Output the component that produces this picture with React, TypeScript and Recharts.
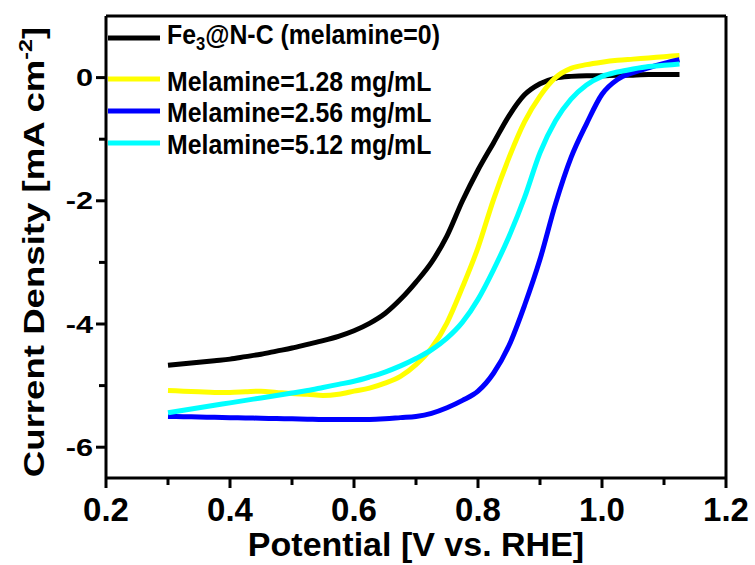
import { LineChart, Line, XAxis, YAxis, Legend, ReferenceLine } from 'recharts'

// potential grid [V vs. RHE] and current densities [mA cm-2]
const potential = [0.300, 0.325, 0.350, 0.375, 0.400, 0.425, 0.450, 0.475, 0.500, 0.525, 0.550, 0.575, 0.600, 0.625, 0.650, 0.675, 0.700, 0.725, 0.750, 0.775, 0.800, 0.825, 0.850, 0.875, 0.900, 0.925, 0.950, 0.975, 1.000, 1.025, 1.050, 1.075, 1.100, 1.125]

const fe3NC = [-4.67, -4.645, -4.62, -4.595, -4.57, -4.53, -4.49, -4.44, -4.39, -4.33, -4.27, -4.20, -4.11, -3.99, -3.83, -3.60, -3.32, -3.00, -2.57, -2.00, -1.50, -1.06, -0.62, -0.28, -0.10, -0.01, 0.02, 0.03, 0.03, 0.04, 0.04, 0.05, 0.05, 0.05]
const mel128 = [-5.08, -5.09, -5.10, -5.11, -5.11, -5.10, -5.09, -5.11, -5.13, -5.14, -5.16, -5.14, -5.09, -5.04, -4.96, -4.85, -4.66, -4.39, -3.98, -3.40, -2.76, -1.98, -1.30, -0.72, -0.30, 0.00, 0.15, 0.21, 0.25, 0.28, 0.30, 0.32, 0.34, 0.36]
const mel256 = [-5.50, -5.505, -5.51, -5.515, -5.52, -5.525, -5.53, -5.535, -5.54, -5.545, -5.55, -5.55, -5.55, -5.55, -5.54, -5.52, -5.50, -5.45, -5.36, -5.24, -5.09, -4.80, -4.35, -3.70, -2.95, -2.05, -1.30, -0.75, -0.27, -0.03, 0.08, 0.16, 0.23, 0.29]
const mel512 = [-5.44, -5.40, -5.36, -5.32, -5.28, -5.24, -5.20, -5.16, -5.12, -5.08, -5.03, -4.98, -4.93, -4.86, -4.78, -4.68, -4.56, -4.42, -4.23, -3.97, -3.60, -3.12, -2.58, -1.95, -1.22, -0.70, -0.35, -0.12, 0.02, 0.09, 0.14, 0.18, 0.20, 0.22]

const xTicks = [0.2, 0.3, 0.4, 0.5, 0.6, 0.7, 0.8, 0.9, 1.0, 1.1, 1.2]
const yTicks = [-6, -5, -4, -3, -2, -1, 0]

const series = [
  { key: 'fe3NC', color: '#000000' },
  { key: 'mel128', color: '#FFFF00' },
  { key: 'mel256', color: '#0000FF' },
  { key: 'mel512', color: '#00FFFF' },
]

const data = potential.map((v, i) => ({
  v,
  fe3NC: fe3NC[i],
  mel128: mel128[i],
  mel256: mel256[i],
  mel512: mel512[i],
}))

const FONT = '"Liberation Sans", Arial, sans-serif'

// major ticks get a label and a longer mark, minor ones only a short mark
const XTick = (props: any) => {
  const { x, y, payload } = props
  const major = Math.round(payload.value * 10) % 2 === 0
  return (
    <g>
      <line x1={x} x2={x} y1={y} y2={y + (major ? 10 : 7)} stroke="#000" strokeWidth={3} />
      {major && (
        <text x={x} y={y + 43} textAnchor="middle" fontSize={33} fontWeight="bold" fontFamily={FONT} fill="#000">
          {payload.value.toFixed(1)}
        </text>
      )}
    </g>
  )
}

const YTick = (props: any) => {
  const { x, y, payload } = props
  const major = payload.value % 2 === 0
  return (
    <g>
      <line x1={x - (major ? 10 : 7)} x2={x} y1={y} y2={y} stroke="#000" strokeWidth={3} />
      {major && (
        <text
          transform={`translate(${x - 13},${y + 8.5}) scale(1.28,1)`}
          textAnchor="end"
          fontSize={24}
          fontWeight="bold"
          fontFamily={FONT}
          fill="#000"
        >
          {payload.value}
        </text>
      )}
    </g>
  )
}

const LegendBox = () => {
  const rows = [
    { lineY: 23, textY: 29 },
    { lineY: 64, textY: 76 },
    { lineY: 96, textY: 107 },
    { lineY: 128, textY: 139 },
  ]
  const label = (i: number) => {
    if (i === 0) {
      return (
        <>
          Fe<tspan fontSize={18} dy={6}>3</tspan>
          <tspan dy={-6}>@N-C (melamine=0)</tspan>
        </>
      )
    }
    return ['', 'Melamine=1.28 mg/mL', 'Melamine=2.56 mg/mL', 'Melamine=5.12 mg/mL'][i]
  }
  return (
    <svg width={360} height={150} style={{ display: 'block' }}>
      {series.map((s, i) => (
        <g key={s.key}>
          <line x1={8} x2={60} y1={rows[i].lineY} y2={rows[i].lineY} stroke={s.color} strokeWidth={5} />
          <text
            transform={`translate(67,${rows[i].textY}) scale(0.92,1)`}
            fontSize={27}
            fontWeight="bold"
            fontFamily={FONT}
            fill="#000"
          >
            {label(i)}
          </text>
        </g>
      ))}
    </svg>
  )
}

export default function App() {
  return (
    <div style={{ position: 'absolute', left: 0, top: 0, background: '#fff' }}>
      <LineChart width={755} height={565} data={data} margin={{ top: 16, right: 29, bottom: 0, left: 0 }}>
        <XAxis
          type="number"
          dataKey="v"
          domain={[0.2, 1.2]}
          ticks={xTicks}
          interval={0}
          allowDataOverflow
          height={87}
          axisLine={{ stroke: '#000', strokeWidth: 3 }}
          tickLine={false}
          tickSize={0}
          tickMargin={0}
          tick={<XTick />}
          label={() => (
            <text x={416} y={556} textAnchor="middle" fontSize={34} fontWeight="bold" fontFamily={FONT} fill="#000">
              Potential [V vs. RHE]
            </text>
          )}
        />
        <YAxis
          type="number"
          domain={[-6.5, 1]}
          ticks={yTicks}
          interval={0}
          allowDataOverflow
          width={106}
          axisLine={{ stroke: '#000', strokeWidth: 3 }}
          tickLine={false}
          tickSize={0}
          tickMargin={0}
          tick={<YTick />}
          label={() => (
            <text
              transform="translate(43.5,252) rotate(-90) scale(1.22,1)"
              textAnchor="middle"
              fontSize={30}
              fontWeight="bold"
              fontFamily={FONT}
              fill="#000"
            >
              Current Density [mA cm<tspan fontSize={19} dy={-12}>-2</tspan>
              <tspan dy={12}>]</tspan>
            </text>
          )}
        />
        <ReferenceLine y={1} stroke="#000" strokeWidth={3} />
        <ReferenceLine x={1.2} stroke="#000" strokeWidth={3} />
        <Legend
          layout="vertical"
          align="center"
          verticalAlign="middle"
          wrapperStyle={{ left: 100, top: 15, width: 360, height: 150 }}
          content={() => <LegendBox />}
        />
        {series.map((s) => (
          <Line
            key={s.key}
            type="monotone"
            dataKey={s.key}
            stroke={s.color}
            strokeWidth={5}
            dot={false}
            activeDot={false}
            isAnimationActive={false}
          />
        ))}
      </LineChart>
    </div>
  )
}
